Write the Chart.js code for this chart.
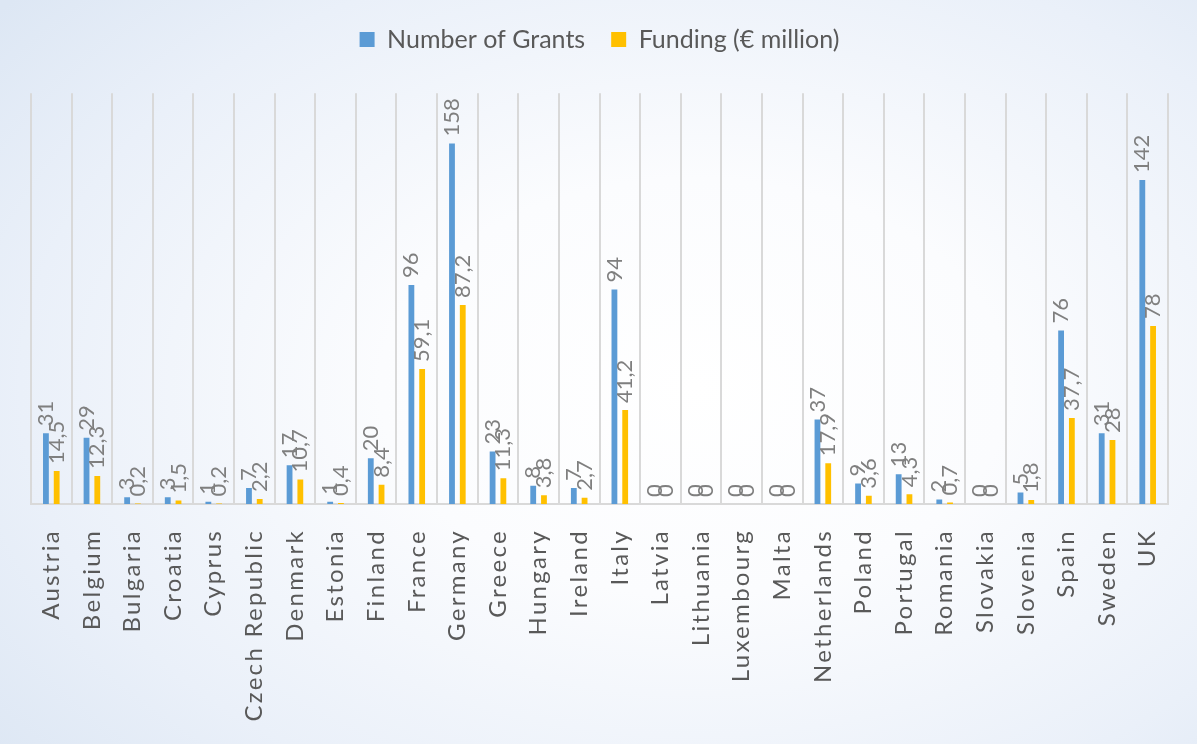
<!DOCTYPE html>
<html>
<head>
<meta charset="utf-8">
<script src="https://cdn.jsdelivr.net/npm/chart.js@4.4.1/dist/chart.umd.min.js"></script>
<style>
    html, body { margin: 0; padding: 0; }
    .chart-box {
        width: 1197px;
        height: 744px;
        background: radial-gradient(ellipse 75% 80% at 58% 52%, #ffffff 0%, #fbfcfe 35%, #eaf0f9 75%, #dde7f4 100%);
    }
</style>
</head>
<body>
<div class="chart-box"><canvas id="grantsChart" width="1197" height="744"></canvas></div>
<script>
var countries = ["Austria", "Belgium", "Bulgaria", "Croatia", "Cyprus", "Czech Republic", "Denmark",
    "Estonia", "Finland", "France", "Germany", "Greece", "Hungary", "Ireland", "Italy", "Latvia",
    "Lithuania", "Luxembourg", "Malta", "Netherlands", "Poland", "Portugal", "Romania", "Slovakia",
    "Slovenia", "Spain", "Sweden", "UK"];
var grants = [31, 29, 3, 3, 1, 7, 17, 1, 20, 96, 158, 23, 8, 7, 94, 0, 0, 0, 0, 37, 9, 13, 2, 0, 5, 76, 31, 142];
var funding = [14.5, 12.3, 0.2, 1.5, 0.2, 2.2, 10.7, 0.4, 8.4, 59.1, 87.2, 11.3, 3.8, 2.7, 41.2, 0, 0, 0, 0,
    17.9, 3.6, 4.3, 0.7, 0, 1.8, 37.7, 28, 78];
var seriesNames = ["Number of Grants", "Funding (\u20ac million)"];

var FONT = "Lato, 'Open Sans', sans-serif";

function formatValue(v){
    return String(v).replace(".", ",");
}

// value labels standing on top of each bar, turned upright
var barValueLabels = {
    id: "barValueLabels",
    afterDatasetsDraw: function(chart){
        var ctx = chart.ctx;
        ctx.save();
        ctx.fillStyle = "#7f7f7f";
        ctx.font = "22px " + FONT;
        ctx.textAlign = "left";
        ctx.textBaseline = "middle";
        chart.data.datasets.forEach(function(ds, d){
            chart.getDatasetMeta(d).data.forEach(function(bar, i){
                ctx.save();
                ctx.translate(bar.x, bar.y - 7);
                ctx.rotate(-Math.PI / 2);
                ctx.fillText(formatValue(ds.data[i]), 0, 0);
                ctx.restore();
            });
        });
        ctx.restore();
    }
};

// country names under the axis, spaced out and rotated
var countryLabels = {
    id: "countryLabels",
    afterDraw: function(chart){
        var ctx = chart.ctx;
        var xScale = chart.scales.x;
        ctx.save();
        ctx.fillStyle = "#595959";
        ctx.font = "24px " + FONT;
        ctx.letterSpacing = "2.3px";
        ctx.textAlign = "right";
        ctx.textBaseline = "middle";
        chart.data.labels.forEach(function(name, i){
            ctx.save();
            ctx.translate(xScale.getPixelForTick(i), xScale.top + 25);
            ctx.rotate(-Math.PI / 2);
            ctx.fillText(name, 0, 0);
            ctx.restore();
        });
        ctx.restore();
    }
};

new Chart(document.getElementById("grantsChart"), {
    type: "bar",
    data: {
        labels: countries,
        datasets: [{
            label: seriesNames[0],
            data: grants,
            backgroundColor: "#5b9bd5",
            categoryPercentage: 0.53,
            barPercentage: 0.54
        }, {
            label: seriesNames[1],
            data: funding,
            backgroundColor: "#ffc000",
            categoryPercentage: 0.53,
            barPercentage: 0.54
        }]
    },
    options: {
        responsive: false,
        animation: false,
        layout: {
            padding: { left: 31, right: 29, top: 1, bottom: 0 }
        },
        plugins: {
            legend: {
                position: "top",
                labels: {
                    boxWidth: 15,
                    boxHeight: 15,
                    padding: 26,
                    color: "#595959",
                    font: { family: FONT, size: 25 }
                }
            },
            // empty block that keeps the plot below the legend
            subtitle: {
                display: true,
                text: "",
                weight: 500,
                font: { size: 1 },
                padding: { top: 30, bottom: 0 }
            },
            tooltip: { enabled: false }
        },
        scales: {
            x: {
                grid: {
                    offset: true,
                    color: "#d9d9d9",
                    lineWidth: 2,
                    drawTicks: false
                },
                border: { color: "#d9d9d9", width: 2 },
                ticks: { display: false },
                afterFit: function(scale){
                    scale.height = 240;
                }
            },
            y: {
                display: false,
                min: 0,
                max: 180
            }
        }
    },
    plugins: [barValueLabels, countryLabels]
});
</script>
</body>
</html>
